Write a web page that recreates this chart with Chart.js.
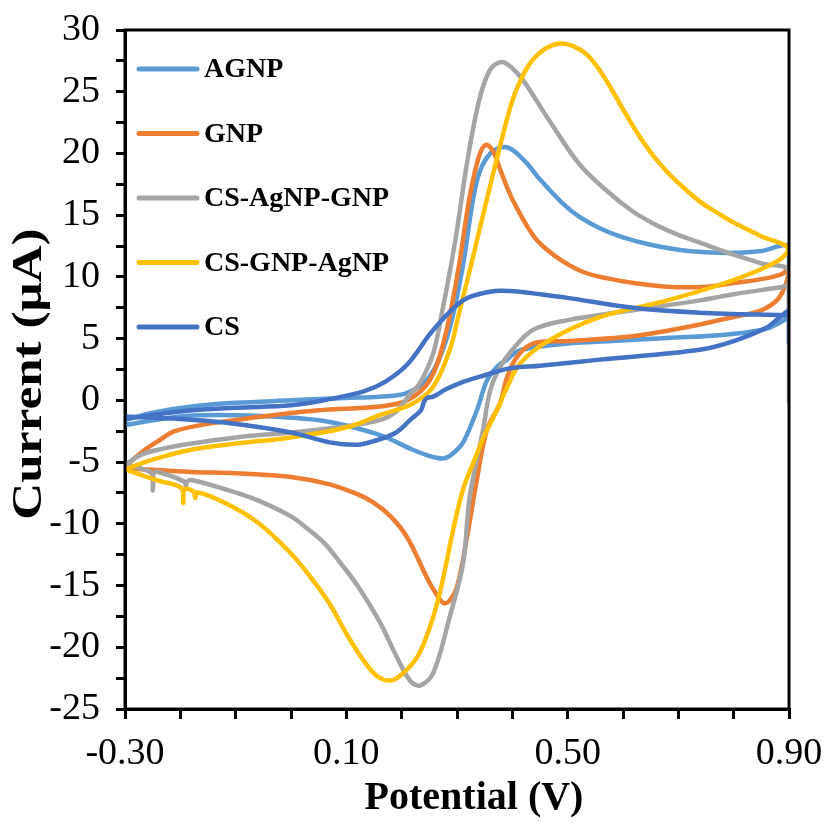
<!DOCTYPE html>
<html>
<head>
<meta charset="utf-8">
<title>CV</title>
<script src="https://cdn.jsdelivr.net/npm/chart.js@4"></script>
<style>
  body { margin: 0; background: #fff; }
  canvas { display: block; }
</style>
</head>
<body>
<canvas id="graficoCV" width="828" height="825"></canvas>
<script>
// potentials (V) and currents (uA), forward scan then reverse scan
const agnpE = [-0.30, -0.25, -0.18, -0.10, 0.00, 0.10, 0.16, 0.21, 0.25, 0.282, 0.309, 0.336, 0.36, 0.39, 0.42, 0.45, 0.49, 0.52, 0.56, 0.60, 0.65, 0.70, 0.75, 0.80, 0.85, 0.90,
               0.90, 0.88, 0.85, 0.78, 0.68, 0.58, 0.50, 0.44, 0.41, 0.39, 0.372, 0.354, 0.336, 0.311, 0.29, 0.275, 0.25, 0.22, 0.16, 0.07, 0.00, -0.10, -0.20, -0.30];
const agnpI = [-1.6, -1.0, -0.5, -0.2, 0.0, 0.2, 0.3, 0.6, 1.9, 5.1, 10.5, 17.8, 20.0, 20.5, 19.5, 17.9, 16.0, 14.9, 13.9, 13.2, 12.6, 12.2, 12.0, 11.95, 12.1, 12.4,
               7.0, 6.2, 5.7, 5.3, 5.05, 4.8, 4.6, 4.3, 4.0, 3.3, 2.7, 1.6, -0.8, -3.4, -4.4, -4.7, -4.5, -4.0, -2.8, -1.75, -1.4, -1.2, -1.3, -2.0];

const gnpE = [-0.30, -0.27, -0.24, -0.21, -0.15, -0.06, 0.05, 0.16, 0.21, 0.251, 0.278, 0.302, 0.323, 0.34, 0.352, 0.365, 0.378, 0.40, 0.437, 0.46, 0.49, 0.528, 0.57, 0.62, 0.68, 0.75, 0.80, 0.86, 0.89, 0.90,
              0.895, 0.88, 0.85, 0.80, 0.70, 0.618, 0.50, 0.437, 0.408, 0.39, 0.378, 0.354, 0.336, 0.318, 0.30, 0.285, 0.275, 0.26, 0.245, 0.21, 0.18, 0.15, 0.12, 0.07, 0.00, -0.10, -0.18, -0.30];
const gnpI = [-5.4, -4.2, -3.3, -2.5, -1.9, -1.35, -0.8, -0.5, 0.0, 1.65, 5.1, 10.5, 16.5, 19.8, 20.7, 20.2, 18.7, 16.3, 13.4, 12.3, 11.3, 10.4, 9.9, 9.5, 9.2, 9.2, 9.5, 9.9, 10.3, 10.8,
              9.5, 8.2, 7.3, 6.75, 5.8, 5.2, 4.8, 4.6, 3.5, 1.8, -0.2, -2.4, -6.4, -11.1, -15.1, -16.3, -16.4, -15.5, -14.3, -11.1, -9.4, -8.3, -7.6, -6.8, -6.2, -5.9, -5.8, -5.5];

const csAgGnpE = [-0.30, -0.27, -0.24, -0.18, -0.10, 0.00, 0.10, 0.16, 0.19, 0.215, 0.233, 0.257, 0.275, 0.287, 0.30, 0.318, 0.34, 0.36, 0.381, 0.40, 0.42, 0.462, 0.52, 0.57, 0.618, 0.66, 0.70, 0.74, 0.80, 0.85, 0.90,
                  0.90, 0.90, 0.89, 0.80, 0.739, 0.618, 0.50, 0.437, 0.40, 0.378, 0.36, 0.347, 0.323, 0.311, 0.287, 0.257, 0.233, 0.215, 0.188, 0.161, 0.12, 0.09, 0.061, 0.03, 0.00, -0.06, -0.119, -0.18, -0.188, -0.19, -0.192, -0.24, -0.248, -0.25, -0.252, -0.30];
const csAgGnpI = [-5.2, -4.4, -4.0, -3.5, -3.0, -2.6, -2.1, -1.6, -0.9, 0.5, 1.4, 3.8, 7.6, 10.4, 13.8, 19.2, 24.3, 26.8, 27.4, 26.9, 25.9, 23.0, 19.2, 17.0, 15.3, 14.2, 13.4, 12.75, 11.8, 11.1, 10.4,
                  -0.1, 9.3, 9.2, 8.6, 8.1, 7.3, 6.5, 5.7, 4.1, 2.7, 0.8, -2.4, -7.8, -13.2, -17.5, -22.1, -23.1, -22.7, -20.5, -18.0, -15.0, -13.2, -11.6, -10.4, -9.4, -8.1, -7.2, -6.45, -6.6, -7.0, -6.6, -5.8, -5.9, -7.3, -5.9, -5.2];

const csGnpAgE = [-0.30, -0.25, -0.18, -0.10, 0.00, 0.10, 0.16, 0.22, 0.257, 0.287, 0.305, 0.323, 0.34, 0.36, 0.38, 0.401, 0.42, 0.437, 0.46, 0.486, 0.51, 0.535, 0.56, 0.582, 0.605, 0.631, 0.655, 0.68, 0.71, 0.739, 0.77, 0.80, 0.85, 0.90,
                  0.88, 0.80, 0.68, 0.558, 0.468, 0.414, 0.39, 0.37, 0.35, 0.33, 0.311, 0.293, 0.27, 0.25, 0.228, 0.20, 0.179, 0.155, 0.13, 0.10, 0.07, 0.035, 0.00, -0.06, -0.12, -0.17, -0.173, -0.176, -0.192, -0.195, -0.198, -0.24, -0.30];
const csGnpAgI = [-5.6, -4.8, -4.0, -3.5, -3.0, -2.2, -1.2, -0.25, 1.1, 4.1, 7.3, 10.5, 13.7, 17.4, 21.0, 24.4, 26.4, 27.6, 28.5, 28.9, 28.7, 28.0, 26.6, 25.0, 23.2, 21.3, 19.8, 18.5, 17.2, 16.1, 15.2, 14.4, 13.3, 12.3,
                  11.3, 9.75, 8.1, 6.75, 4.9, 3.0, 1.0, -1.0, -2.8, -5.0, -7.2, -10.5, -15.4, -18.5, -20.8, -22.2, -22.7, -22.3, -21.0, -18.9, -16.5, -14.3, -12.4, -9.9, -8.3, -7.45, -7.9, -7.4, -7.2, -8.3, -7.1, -6.5, -5.6];

const csE = [-0.30, -0.20, -0.10, 0.00, 0.07, 0.13, 0.17, 0.21, 0.257, 0.311, 0.36, 0.396, 0.45, 0.50, 0.618, 0.739, 0.89, 0.90,
             0.90, 0.90, 0.88, 0.86, 0.80, 0.739, 0.558, 0.45, 0.396, 0.34, 0.311, 0.28, 0.257, 0.246, 0.24, 0.235, 0.215, 0.19, 0.15, 0.12, 0.07, 0.00, -0.12, -0.20, -0.30];
const csI = [-1.5, -0.9, -0.6, -0.4, 0.1, 0.7, 1.5, 2.9, 5.7, 8.1, 8.8, 8.85, 8.6, 8.3, 7.5, 7.1, 6.9, 6.9,
             4.6, 7.2, 6.6, 5.9, 4.8, 4.1, 3.3, 2.8, 2.6, 1.9, 1.5, 0.9, 0.3, 0.2, -0.15, -0.8, -1.6, -2.6, -3.3, -3.6, -3.4, -2.6, -1.8, -1.5, -1.3];

const seriesNames = ['AGNP', 'GNP', 'CS-AgNP-GNP', 'CS-GNP-AgNP', 'CS'];
const seriesColors = ['#5B9BD5', '#ED7D31', '#A5A5A5', '#FFC000', '#4472C4'];

const xTicks = [-0.3, -0.2, -0.1, 0.0, 0.1, 0.2, 0.3, 0.4, 0.5, 0.6, 0.7, 0.8, 0.9];
const xLabels = [-0.3, 0.1, 0.5, 0.9];
const yTicks = [-25, -22.5, -20, -17.5, -15, -12.5, -10, -7.5, -5, -2.5, 0, 2.5, 5, 7.5, 10, 12.5, 15, 17.5, 20, 22.5, 25, 27.5, 30];
const yLabels = [-25, -20, -15, -10, -5, 0, 5, 10, 15, 20, 25, 30];

const xTitle = 'Potential (V)';
const yTitle = 'Current (μA)';

const SERIF = "'Liberation Serif', 'Times New Roman', serif";

function pares(e, i) {
    return e.map((v, k) => ({ x: v, y: i[k] }));
}

const frameAndLegend = {
    id: 'frameAndLegend',
    afterDraw(chart) {
        const c = chart.ctx;
        const a = chart.chartArea;
        c.save();
        c.strokeStyle = '#000';
        c.lineWidth = 3;
        c.strokeRect(a.left, a.top, a.right - a.left, a.bottom - a.top);

        // axis titles
        c.fillStyle = '#000';
        c.textAlign = 'center';
        c.textBaseline = 'middle';
        c.font = 'bold 40px ' + SERIF;
        c.fillText(xTitle, 474, 799);

        c.save();
        c.translate(30, 374);
        c.rotate(-Math.PI / 2);
        c.scale(1.22, 1);
        c.font = 'bold 42px ' + SERIF;
        c.fillText(yTitle, 0, 0);
        c.restore();

        // legend inside the plot, top-left
        c.textAlign = 'left';
        c.font = 'bold 28px ' + SERIF;
        c.lineCap = 'round';
        seriesNames.forEach((name, k) => {
            const y = 69 + k * 64.5;
            c.strokeStyle = seriesColors[k];
            c.lineWidth = 5;
            c.beginPath();
            c.moveTo(139, y);
            c.lineTo(197, y);
            c.stroke();
            c.fillText(name, 204, y + 1);
        });
        c.restore();
    }
};

document.addEventListener('DOMContentLoaded', () => {

    const ctxCV = document.getElementById('graficoCV');
    const dados = [
        pares(agnpE, agnpI),
        pares(gnpE, gnpI),
        pares(csAgGnpE, csAgGnpI),
        pares(csGnpAgE, csGnpAgI),
        pares(csE, csI)
    ];

    new Chart(ctxCV, {
        type: 'scatter',
        data: {
            datasets: dados.map((d, k) => ({
                label: seriesNames[k],
                data: d,
                showLine: true,
                borderColor: seriesColors[k],
                backgroundColor: seriesColors[k],
                borderWidth: 4.5,
                pointRadius: 0,
                tension: 0.35,
                order: 4 - k
            }))
        },
        options: {
            responsive: false,
            animation: false,
            events: [],
            layout: { padding: { top: 30, right: 39, left: 0, bottom: 0 } },
            plugins: {
                legend: { display: false },
                tooltip: { enabled: false }
            },
            scales: {
                x: {
                    type: 'linear',
                    min: -0.3,
                    max: 0.9,
                    afterBuildTicks: (s) => { s.ticks = xTicks.map(v => ({ value: v })); },
                    afterFit: (s) => { s.height = 116; s.paddingLeft = 0; s.paddingRight = 0; },
                    border: { color: '#000', width: 3 },
                    grid: { drawOnChartArea: false, drawTicks: true, tickLength: 10, color: '#000', lineWidth: 3 },
                    ticks: {
                        autoSkip: false,
                        maxRotation: 0,
                        padding: 12,
                        color: '#000',
                        font: { family: SERIF, size: 38 },
                        callback: (v) => xLabels.some(l => Math.abs(l - v) < 1e-6) ? v.toFixed(2) : ''
                    }
                },
                y: {
                    type: 'linear',
                    min: -25,
                    max: 30,
                    afterBuildTicks: (s) => { s.ticks = yTicks.map(v => ({ value: v })); },
                    afterFit: (s) => { s.width = 125; s.paddingTop = 0; s.paddingBottom = 0; },
                    border: { color: '#000', width: 3 },
                    grid: { drawOnChartArea: false, drawTicks: true, tickLength: 9, color: '#000', lineWidth: 3 },
                    ticks: {
                        autoSkip: false,
                        padding: 16,
                        color: '#000',
                        font: { family: SERIF, size: 38 },
                        callback: (v) => yLabels.includes(v) ? String(v) : ''
                    }
                }
            }
        },
        plugins: [frameAndLegend]
    });

});
</script>
</body>
</html>
